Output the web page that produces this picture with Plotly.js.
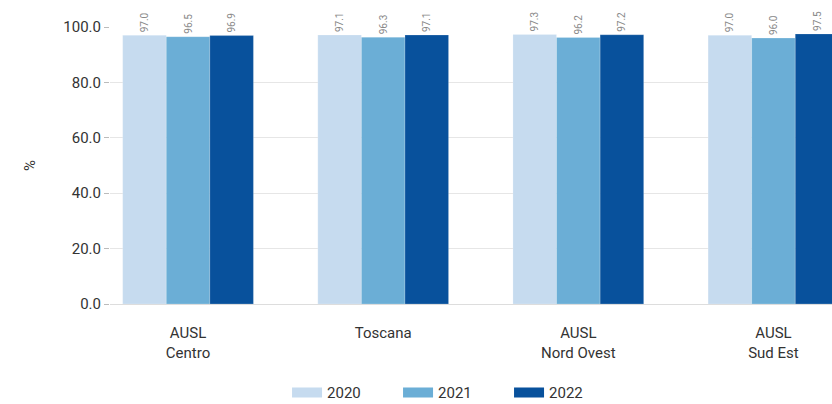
<!DOCTYPE html>
<html>
<head>
<meta charset="utf-8">
<script src="https://cdn.plot.ly/plotly-3.0.1.min.js"></script>
<style>html,body{margin:0;padding:0;background:#fff;}#chart{width:832px;height:404px;}</style>
</head>
<body>
<div id="chart"></div>
<script>
const categories = ["AUSL<br>Centro", "Toscana", "AUSL<br>Nord Ovest", "AUSL<br>Sud Est"];
const years = ["2020", "2021", "2022"];
const v2020 = [97.0, 97.1, 97.3, 97.0];
const v2021 = [96.5, 96.3, 96.2, 96.0];
const v2022 = [96.9, 97.1, 97.2, 97.5];
const colors = ["#c6dbef", "#6baed6", "#08519c"];
const series = [v2020, v2021, v2022];

const traces = series.map((vals, i) => ({
  type: 'bar',
  name: years[i],
  x: categories,
  y: vals,
  showlegend: false,
  marker: {color: colors[i], line: {color: 'rgba(255,255,255,0.4)', width: 0.5}},
  text: vals.map(v => v.toFixed(1)),
  textposition: 'outside',
  textangle: -90,
  textfont: {family: 'Roboto, sans-serif', size: 10, color: '#888'},
  cliponaxis: false,
  hoverinfo: 'skip'
}));

// legend-only entries drawn as wide swatches
years.forEach((yr, i) => {
  traces.push({
    type: 'scatter', mode: 'lines', name: yr,
    x: [categories[0]], y: [null],
    line: {color: colors[i], width: 13},
    showlegend: true, hoverinfo: 'skip'
  });
});

const layout = {
  width: 832, height: 404,
  margin: {l: 110, r: 0, t: 27, b: 100},
  paper_bgcolor: '#fff', plot_bgcolor: '#fff',
  font: {family: 'Roboto, sans-serif', size: 15, color: '#333'},
  barmode: 'group',
  bargap: 0.33,
  bargroupgap: 0,
  showlegend: true,
  legend: {orientation: 'h', xref: 'container', x: 0.345, xanchor: 'left',
           yref: 'container', y: 0.028, yanchor: 'middle',
           entrywidth: 66, entrywidthmode: 'pixels',
           font: {size: 15, color: '#333'}, traceorder: 'normal'},
  xaxis: {
    type: 'category',
    range: [-0.4, 3.3],
    showgrid: false,
    showline: true, linecolor: '#ddd', linewidth: 1,
    ticks: 'outside', ticklen: 15, tickcolor: 'rgba(0,0,0,0)',
    tickfont: {size: 15, color: '#333'},
    automargin: false
  },
  yaxis: {
    range: [0, 100],
    dtick: 20,
    tickformat: '.1f',
    showgrid: true, gridcolor: '#e6e6e6', gridwidth: 1,
    zeroline: false,
    showline: false,
    ticks: 'outside', ticklen: 5, tickcolor: '#bbb',
    tickfont: {size: 15, color: '#333'},
    title: {text: '%', font: {size: 15, color: '#333'}, standoff: 24},
    automargin: false
  }
};

Plotly.newPlot('chart', traces, layout, {displayModeBar: false, staticPlot: true});
</script>
</body>
</html>
